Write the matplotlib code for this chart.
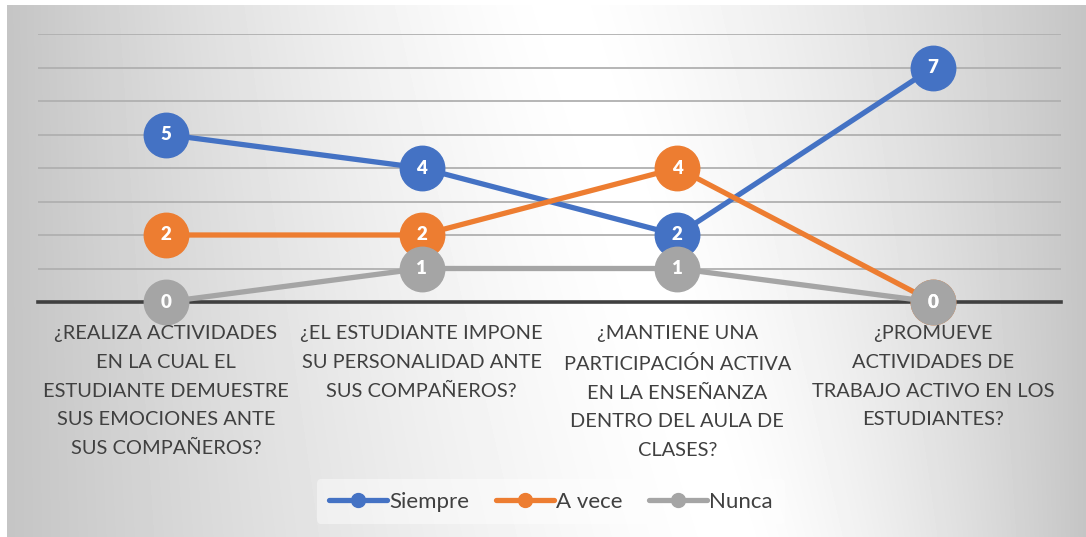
import numpy as np
import matplotlib
matplotlib.use("Agg")
import matplotlib.pyplot as plt
from matplotlib.lines import Line2D
import matplotlib.transforms as mtransforms

categories = [
    "¿REALIZA ACTIVIDADES\nEN LA CUAL EL\nESTUDIANTE DEMUESTRE\nSUS EMOCIONES ANTE\nSUS COMPAÑEROS?",
    "¿EL ESTUDIANTE IMPONE\nSU PERSONALIDAD ANTE\nSUS COMPAÑEROS?",
    "¿MANTIENE UNA\nPARTICIPACIÓN ACTIVA\nEN LA ENSEÑANZA\nDENTRO DEL AULA DE\nCLASES?",
    "¿PROMUEVE\nACTIVIDADES DE\nTRABAJO ACTIVO EN LOS\nESTUDIANTES?",
]
siempre = [5, 4, 2, 7]
a_vece = [2, 2, 4, 0]
nunca = [0, 1, 1, 0]
series_names = ["Siempre", "A vece", "Nunca"]
colors = ["#4472C4", "#ED7D31", "#A5A5A5"]

plt.rcParams['font.family'] = ['Lato', 'DejaVu Sans']

W, H = 1086, 537
fig = plt.figure(figsize=(W / 100, H / 100), dpi=100)
fig.patch.set_facecolor("white")

# background gradient panel
bg = fig.add_axes([7 / W, 0, 1 - 7 / W, (H - 5) / H], zorder=0)
bw, bh = W - 7, H - 5
xx, yy = np.meshgrid(np.arange(bw) + 7.0, np.arange(bh) + 5.0)
cx = 560 + 0.33 * yy
dx = xx - cx
d = np.where(dx < 0, -dx / (cx - 7), dx / (1086 - cx))
val = 1 - 0.23 * np.clip(d, 0, 1) ** 1.4
bg.imshow(val, cmap="gray", vmin=0, vmax=1, aspect="auto", interpolation="bilinear")
bg.axis("off")

ax = fig.add_axes([38 / W, (H - 302) / H, (1061 - 38) / W, (302 - 34) / H], zorder=2)
ax.set_facecolor("none")
x = np.arange(len(categories))
ax.set_xlim(-0.5, len(categories) - 0.5)
ax.set_ylim(0, 8)
for v in range(1, 9):
    ax.axhline(v, color="#b0b0b0", lw=1.3, zorder=1)
ax.axhline(0, color="#404040", lw=2.6, zorder=1.5, clip_on=False)

for vals, name, c in zip([siempre, a_vece, nunca], series_names, colors):
    ax.plot(x, vals, color=c, lw=3.8, marker="o", ms=32, mfc=c, mec=c,
            solid_capstyle="round", clip_on=False, zorder=3, label=name)
    for xi, v in zip(x, vals):
        ax.text(xi, v, str(v), ha="center", va="center", color="white",
                fontsize=13.5, fontweight="heavy", zorder=4, clip_on=False)

for s in ax.spines.values():
    s.set_visible(False)
ax.set_yticks([])
ax.set_xticks([])

trans = mtransforms.offset_copy(ax.get_xaxis_transform(), fig=fig, x=0, y=-23, units="dots")
for xi, lab in zip(x, categories):
    ax.text(xi, 0, lab, transform=trans, ha="center", va="top", multialignment="center",
            fontsize=14.4, color="#404040", linespacing=1.84, clip_on=False)

handles = [Line2D([0], [0], color=c, lw=3.8, marker="o", ms=10, solid_capstyle="round")
           for c in colors]
leg = fig.legend(handles, series_names, loc="center", bbox_to_anchor=(551 / W, 0.066),
                 ncol=3, frameon=True, fontsize=16, handlelength=2.6,
                 handletextpad=0.1, columnspacing=1.2, labelcolor="#404040",
                 borderpad=0.55)
leg.get_frame().set_facecolor("white")
leg.get_frame().set_alpha(0.45)
leg.get_frame().set_edgecolor("none")

fig.savefig("out.png", dpi=100)
